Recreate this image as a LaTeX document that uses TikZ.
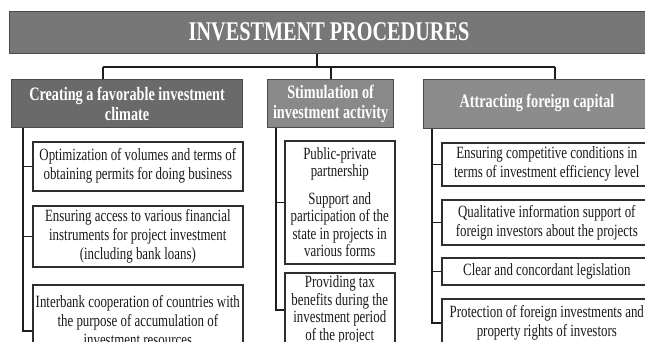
\documentclass[tikz,border=0pt]{standalone}
\usepackage{fontspec}
\setmainfont{Liberation Serif}[FakeStretch=0.75]
\usetikzlibrary{calc}
\definecolor{titlefill}{HTML}{777777}
\definecolor{hdrA}{HTML}{6A6A6A}
\definecolor{hdrB}{HTML}{898989}
\definecolor{hdrC}{HTML}{8C8C8C}
\definecolor{hdrline}{HTML}{4A4A4A}
\definecolor{boxline}{HTML}{2E2E2E}
\definecolor{connline}{HTML}{1E1E1E}
\definecolor{bodytext}{HTML}{1A1A1A}
\begin{document}
\begin{tikzpicture}[x=1pt,y=-1pt,
  box/.style={draw=boxline, line width=1.6pt, fill=white, inner sep=0pt, anchor=north west,
    align=center, text=bodytext, font=\fontsize{17.2}{19}\selectfont},
  midbox/.style={box, font=\fontsize{17.2}{17.5}\selectfont},
  hdr/.style={draw=hdrline, line width=1.2pt, inner sep=0pt, anchor=north west,
    align=center, text=white, font=\bfseries\fontsize{19}{20}\selectfont},
  hdrtext/.style={inner sep=0pt, text=white, font=\bfseries\fontsize{19}{20}\selectfont},
  titletext/.style={inner sep=0pt, text=white, font=\bfseries\fontsize{27}{30}\selectfont},
  conn/.style={draw=connline, line width=1.6pt}]
\useasboundingbox (0,0) rectangle (645,342);
\clip (0,0) rectangle (645,342);
\fill[white] (0,0) rectangle (645,342);

% title
\node[hdr, fill=titlefill, minimum width=700, minimum height=42] (title) at (9,11) {};
\node[titletext] (tt) at (329,32) {INVESTMENT PROCEDURES};

% headers
\node[hdr, fill=hdrA, minimum width=231, minimum height=48] (h1) at (11,79)
  {Creating a favorable investment\\climate};
\node[hdr, fill=hdrB, minimum width=126, minimum height=48] (h2) at (267,79)
  {Stimulation of\\investment activity};
\node[hdr, fill=hdrC, minimum width=300, minimum height=49] (h3) at (423,79) {};
\node[hdrtext] (h3t) at (537,103) {Attracting foreign capital};

% top connectors
\coordinate (bus) at (317,67);
\coordinate (d1) at (103,67);
\coordinate (d2) at (331,67);
\coordinate (d3) at (555,67);
\draw[conn] (title.south -| bus) -- (bus);
\draw[conn] (d1) -- (d3);
\draw[conn] (d1) -- (d1 |- h1.north);
\draw[conn] (d2) -- (d2 |- h2.north);
\draw[conn] (d3) -- (d3 |- h3.north);

% left column
\node[box, minimum width=210, minimum height=49] (b11) at (32,141)
  {Optimization of volumes and terms of\\obtaining permits for doing business};
\node[box, minimum width=210, minimum height=61] (b12) at (32,205)
  {Ensuring access to various financial\\instruments for project investment\\(including bank loans)};
\node[box, minimum width=210, minimum height=72] (b13) at (32,284)
  {Interbank cooperation of countries with\\the purpose of accumulation of\\investment resources};
\coordinate (s1) at (23,0);
\draw[conn] (s1 |- h1.south) |- (b11.west);
\draw[conn] (s1 |- h1.south) |- (b12.west);
\draw[conn] (s1 |- h1.south) |- ([yshift=-10pt]b13.west);

% middle column
\node[midbox, minimum width=110, minimum height=123] (b21) at (284,140)
  {Public-private\\partnership\\[10pt]Support and\\participation of the\\state in projects in\\various forms};
\node[midbox, minimum width=110, minimum height=74] (b22) at (284,272)
  {Providing tax\\benefits during the\\investment period\\of the project};
\coordinate (s2) at (276,0);
\draw[conn] (s2 |- h2.south) |- (b21.west);
\draw[conn] (s2 |- h2.south) |- (b22.west);

% right column
\node[box, minimum width=210, minimum height=43] (b31) at (441,142)
  {Ensuring competitive conditions in\\terms of investment efficiency level};
\node[box, minimum width=210, minimum height=45] (b32) at (441,199)
  {Qualitative information support of\\foreign investors about the projects};
\node[box, minimum width=210, minimum height=27] (b33) at (441,257)
  {Clear and concordant legislation};
\node[box, minimum width=210, minimum height=48] (b34) at (441,298)
  {Protection of foreign investments and\\property rights of investors};
\coordinate (s3) at (432,0);
\draw[conn] (s3 |- h3.south) |- (b31.west);
\draw[conn] (s3 |- h3.south) |- (b32.west);
\draw[conn] (s3 |- h3.south) |- (b33.west);
\draw[conn] (s3 |- h3.south) |- (b34.west);
\end{tikzpicture}
\end{document}
